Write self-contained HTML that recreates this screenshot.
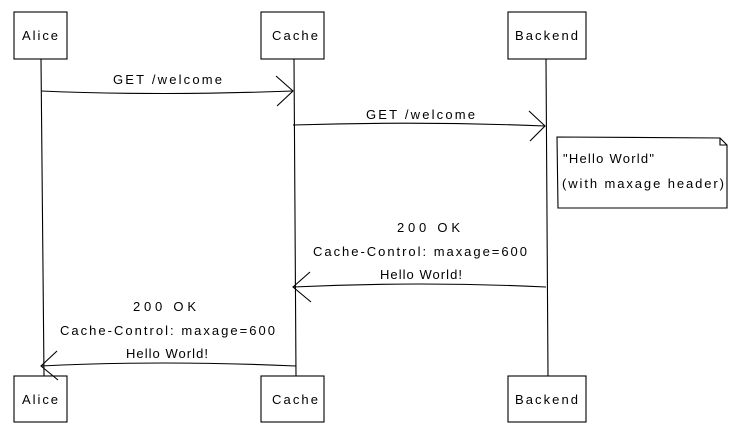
<!DOCTYPE html>
<html><head><meta charset="utf-8"><style>
body{margin:0;background:#fff}
svg text{font-family:"Liberation Sans",sans-serif;font-size:13px;fill:#000}
</style></head><body>
<svg width="746" height="431" viewBox="0 0 746 431" xmlns="http://www.w3.org/2000/svg">
<g fill="none" stroke="#000" stroke-width="1.1">
<line x1="41" y1="59" x2="44" y2="376"/>
<line x1="294" y1="59" x2="296" y2="376"/>
<line x1="546" y1="59" x2="548" y2="376"/>
<rect x="14" y="12" width="53" height="47"/>
<rect x="261" y="12" width="63" height="47"/>
<rect x="508" y="12" width="78" height="47"/>
<rect x="14" y="376" width="53" height="46"/>
<rect x="261" y="376" width="63" height="46"/>
<rect x="508" y="376" width="78" height="46"/>
<path d="M41 91 Q160 96 293 91"/><path d="M276 76 L293 91 L277 106"/>
<path d="M293 125 Q420 121 545 126"/><path d="M529 111 L545 126 L530 141"/>
<path d="M546 287 Q420 281 293 287"/><path d="M310 272 L293 287 L311 302"/>
<path d="M296 366 Q160 360 41 366"/><path d="M57 351 L41 366 L58 380"/>
<path d="M557 137 L720 138 L727 145 L727 208 L558 208 Z"/><path d="M720 138 L720 145 L727 145"/>
</g>
<text x="22" y="40" textLength="36" lengthAdjust="spacing">Alice</text>
<text x="272" y="40" textLength="46" lengthAdjust="spacing">Cache</text>
<text x="515" y="40" textLength="63" lengthAdjust="spacing">Backend</text>
<text x="22" y="404" textLength="36" lengthAdjust="spacing">Alice</text>
<text x="272" y="404" textLength="46" lengthAdjust="spacing">Cache</text>
<text x="515" y="404" textLength="63" lengthAdjust="spacing">Backend</text>
<text x="113" y="84" textLength="109" lengthAdjust="spacing">GET /welcome</text>
<text x="366" y="119" textLength="109" lengthAdjust="spacing">GET /welcome</text>
<text x="563" y="163" textLength="91" lengthAdjust="spacing">"Hello World"</text>
<text x="562" y="188" textLength="162" lengthAdjust="spacing">(with maxage header)</text>
<text x="397" y="232" textLength="63" lengthAdjust="spacing">200 OK</text>
<text x="313" y="256" textLength="214" lengthAdjust="spacing">Cache-Control: maxage=600</text>
<text x="380" y="279" textLength="82" lengthAdjust="spacing">Hello World!</text>
<text x="133" y="311" textLength="63" lengthAdjust="spacing">200 OK</text>
<text x="60" y="335" textLength="215" lengthAdjust="spacing">Cache-Control: maxage=600</text>
<text x="126" y="358" textLength="82" lengthAdjust="spacing">Hello World!</text>
</svg>
</body></html>
